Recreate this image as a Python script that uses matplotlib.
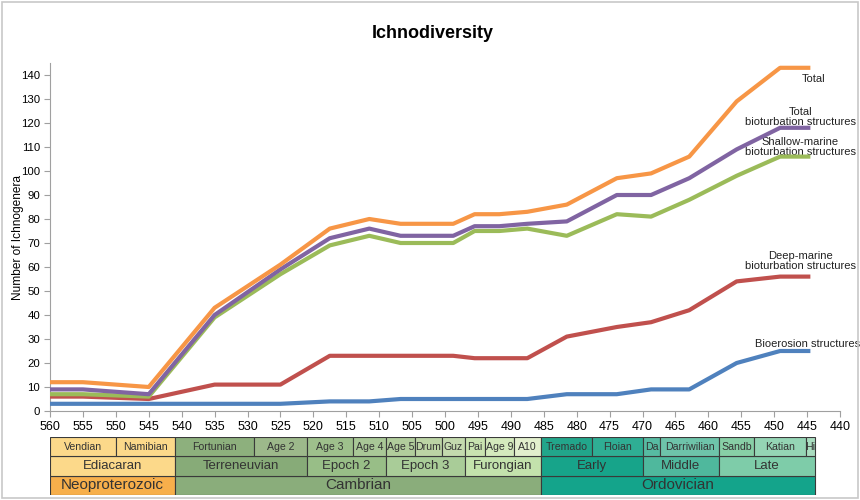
import matplotlib
matplotlib.use("Agg")
import matplotlib.pyplot as plt
from matplotlib.patches import Rectangle

plt.rcParams['font.family'] = ['Liberation Sans', 'DejaVu Sans']

# ---------------- data ----------------
ages = [560, 555, 545, 535, 525, 517.5, 511.5, 506.75, 502.5, 498.75,
        495.5, 491.75, 487.5, 481.5, 473.9, 468.7, 462.9, 455.7, 449.1, 444.5]
total = [12, 12, 10, 43, 61, 76, 80, 78, 78, 78, 82, 82, 83, 86, 97, 99, 106, 129, 143, 143]
total_biot = [9, 9, 7, 40, 59, 72, 76, 73, 73, 73, 77, 77, 78, 79, 90, 90, 97, 109, 118, 118]
shallow = [7, 7, 6, 39, 57, 69, 73, 70, 70, 70, 75, 75, 76, 73, 82, 81, 88, 98, 106, 106]
deep = [6, 6, 5, 11, 11, 23, 23, 23, 23, 23, 22, 22, 22, 31, 35, 37, 42, 54, 56, 56]
bioerosion = [3, 3, 3, 3, 3, 4, 4, 5, 5, 5, 5, 5, 5, 7, 7, 9, 9, 20, 25, 25]

series_names = ["Total", "Total\nbioturbation structures",
                "Shallow-marine\nbioturbation structures",
                "Deep-marine\nbioturbation structures", "Bioerosion structures"]

# timescale (start, end, label, colour)
stages = [
    (560, 550, "Vendian", "#FCD98A"), (550, 541, "Namibian", "#FCD98A"),
    (541, 529, "Fortunian", "#8DB07D"), (529, 521, "Age 2", "#9DB98B"),
    (521, 514, "Age 3", "#9EC08C"), (514, 509, "Age 4", "#A9C897"),
    (509, 504.5, "Age 5", "#B1CD9C"), (504.5, 500.5, "Drum", "#BCD4A5"),
    (500.5, 497, "Guz", "#C4DAAE"), (497, 494, "Pai", "#C9E3B0"),
    (494, 489.5, "Age 9", "#D4EABD"), (489.5, 485.4, "A10", "#E2EFCD"),
    (485.4, 477.7, "Tremado", "#22A68B"), (477.7, 470, "Floian", "#2FAE94"),
    (470, 467.3, "Da", "#57BBA2"), (467.3, 458.4, "Darriwilian", "#6EC4AA"),
    (458.4, 453, "Sandb", "#88CFA6"), (453, 445.2, "Katian", "#95D5B5"),
    (445.2, 443.8, "Hi", "#A9DCBF"),
]
epochs = [
    (560, 541, "Ediacaran", "#FCD98A"), (541, 521, "Terreneuvian", "#87AB78"),
    (521, 509, "Epoch 2", "#98BE87"), (509, 497, "Epoch 3", "#A9CC98"),
    (497, 485.4, "Furongian", "#C3E2AC"), (485.4, 470, "Early", "#17A48A"),
    (470, 458.4, "Middle", "#4FB89D"), (458.4, 443.8, "Late", "#7ECCA9"),
]
periods = [
    (560, 541, "Neoproterozoic", "#F7AF4B"), (541, 485.4, "Cambrian", "#8AAD7B"),
    (485.4, 443.8, "Ordovician", "#14A48B"),
]

colors = ["#F79646", "#8064A2", "#9BBB59", "#C0504D", "#4F81BD"]

# ---------------- figure ----------------
fig = plt.figure(figsize=(8.6, 5.0), dpi=100)
fig.patches.append(Rectangle((0.002, 0.004), 0.996, 0.992, transform=fig.transFigure,
                             fill=False, edgecolor="#C8C8C8", linewidth=1.2))

ax = fig.add_axes([50 / 860, 1 - 411 / 500, 790 / 860, 348 / 500])
ys = [total, total_biot, shallow, deep, bioerosion]
order = [2, 3, 4, 1, 0]
for i in order:
    ax.plot(ages, ys[i], color=colors[i], linewidth=3.0, solid_capstyle="butt",
            solid_joinstyle="round", zorder=3 + (4 - i))

ax.set_xlim(560, 440)
ax.set_ylim(0, 145)
ax.set_xticks(range(560, 439, -5))
ax.set_yticks(range(0, 141, 10))
ax.tick_params(axis="both", color="#A0A0A0", length=4, width=0.8)
ax.tick_params(axis="x", labelsize=9, pad=3)
ax.tick_params(axis="y", labelsize=8.2, pad=3)
for s in ["top", "right"]:
    ax.spines[s].set_visible(False)
for s in ["left", "bottom"]:
    ax.spines[s].set_color("#A0A0A0")
    ax.spines[s].set_linewidth(0.8)
ax.set_ylabel("Number of Ichnogenera", fontsize=8.6)
ax.yaxis.label.set_verticalalignment("center")
ax.yaxis.set_label_coords(-0.040, 0.5)

# series labels
label_pos = [(444.0, 138.5), (446.0, 122.5), (446.0, 110.0), (446.0, 62.5), (445.0, 28.0)]
for name, (x, y) in zip(series_names, label_pos):
    ax.text(x, y, name, fontsize=8.0, ha="center", va="center", color="#222222",
            linespacing=1.05, clip_on=False)

fig.text(0.503, 0.932, "Ichnodiversity", fontsize=13, fontweight="bold",
         ha="center", va="center")

# ---------------- timescale ----------------
tax = fig.add_axes([50 / 860, 1 - 495 / 500, 790 / 860, 58 / 500])
tax.set_xlim(560, 440)
tax.set_ylim(0, 3)
tax.axis("off")
rows = [(periods, 0, 11), (epochs, 1, 9.5), (stages, 2, 7.6)]
for items, y0, fs in rows:
    for a0, a1, lab, col in items:
        rect = Rectangle((a1, y0), a0 - a1, 1, facecolor=col,
                         edgecolor="#3A3A3A", linewidth=0.8)
        tax.add_patch(rect)
        t = tax.text((a0 + a1) / 2, y0 + 0.5, lab, fontsize=fs, ha="center",
                     va="center", color="#333333")
        t.set_clip_path(rect)

fig.savefig("out.png", dpi=100)
